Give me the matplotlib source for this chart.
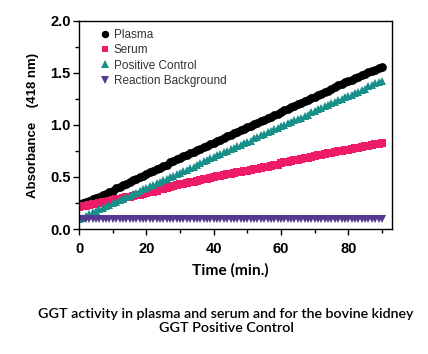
import numpy as np
import matplotlib
matplotlib.use("Agg")
import matplotlib.pyplot as plt
from matplotlib.ticker import MultipleLocator

# --------------------------
# data (1 min steps)
# --------------------------
time_min = list(range(0, 91))

plasma = [0.24, 0.25, 0.26, 0.27, 0.29, 0.30, 0.31, 0.33, 0.34, 0.36,
          0.37, 0.39, 0.40, 0.42, 0.43, 0.45, 0.47, 0.48, 0.50, 0.51,
          0.53, 0.55, 0.56, 0.58, 0.59, 0.61, 0.62, 0.64, 0.65, 0.67,
          0.68, 0.70, 0.71, 0.73, 0.74, 0.76, 0.77, 0.79, 0.80, 0.82,
          0.83, 0.85, 0.86, 0.87, 0.89, 0.90, 0.92, 0.93, 0.95, 0.96,
          0.98, 0.99, 1.01, 1.02, 1.04, 1.05, 1.07, 1.08, 1.10, 1.11,
          1.12, 1.14, 1.15, 1.17, 1.18, 1.20, 1.21, 1.23, 1.24, 1.26,
          1.27, 1.29, 1.30, 1.32, 1.33, 1.35, 1.36, 1.38, 1.39, 1.41,
          1.42, 1.43, 1.45, 1.46, 1.48, 1.49, 1.51, 1.52, 1.53, 1.55,
          1.56]

serum = [0.21, 0.22, 0.22, 0.23, 0.24, 0.24, 0.25, 0.26, 0.26, 0.27,
         0.28, 0.29, 0.29, 0.30, 0.31, 0.31, 0.32, 0.33, 0.33, 0.34,
         0.35, 0.36, 0.36, 0.37, 0.38, 0.38, 0.39, 0.40, 0.41, 0.42,
         0.43, 0.43, 0.44, 0.45, 0.45, 0.46, 0.47, 0.48, 0.48, 0.49,
         0.50, 0.51, 0.51, 0.52, 0.53, 0.53, 0.54, 0.55, 0.55, 0.56,
         0.56, 0.57, 0.58, 0.58, 0.59, 0.60, 0.60, 0.61, 0.62, 0.62,
         0.63, 0.64, 0.64, 0.65, 0.66, 0.66, 0.67, 0.68, 0.68, 0.69,
         0.70, 0.71, 0.71, 0.72, 0.73, 0.73, 0.74, 0.75, 0.75, 0.76,
         0.76, 0.77, 0.78, 0.78, 0.79, 0.80, 0.80, 0.81, 0.82, 0.82,
         0.83]

positive_control = [0.10, 0.11, 0.13, 0.14, 0.16, 0.17, 0.19, 0.20, 0.22, 0.23,
                    0.25, 0.26, 0.28, 0.29, 0.31, 0.32, 0.34, 0.35, 0.37, 0.38,
                    0.39, 0.41, 0.42, 0.44, 0.45, 0.47, 0.48, 0.50, 0.51, 0.53,
                    0.54, 0.56, 0.57, 0.59, 0.60, 0.62, 0.63, 0.65, 0.66, 0.68,
                    0.69, 0.71, 0.72, 0.74, 0.75, 0.77, 0.78, 0.80, 0.81, 0.83,
                    0.84, 0.85, 0.87, 0.88, 0.90, 0.91, 0.93, 0.94, 0.96, 0.97,
                    0.99, 1.00, 1.02, 1.03, 1.05, 1.06, 1.07, 1.09, 1.10, 1.12,
                    1.13, 1.15, 1.16, 1.18, 1.19, 1.21, 1.22, 1.24, 1.25, 1.27,
                    1.28, 1.29, 1.31, 1.32, 1.34, 1.35, 1.37, 1.38, 1.40, 1.41,
                    1.42]

background = [0.10] * 91  # flat in the picture, every reading ~0.10

series_names = ["Plasma", "Serum", "Positive Control", "Reaction Background"]

# --------------------------
# figure
# --------------------------
fig = plt.figure(figsize=(4.28, 3.54), dpi=100)
ax = fig.add_axes([0.185, 0.353, 0.731, 0.588])

ax.plot(time_min, plasma, "o", color="black", ms=6.3, mew=0, label=series_names[0])
ax.plot(time_min, serum, "s", color="#ee1c68", ms=5.6, mew=0, label=series_names[1])
ax.plot(time_min, positive_control, "^", color="#17908a", ms=6.2, mew=0, label=series_names[2])
ax.plot(time_min, background, "v", color="#55388f", ms=6.2, mew=0, label=series_names[3])

ax.set_xlim(0, 93)
ax.set_ylim(0, 2.0)
ax.xaxis.set_major_locator(MultipleLocator(20))
ax.xaxis.set_minor_locator(MultipleLocator(10))
ax.yaxis.set_major_locator(MultipleLocator(0.5))
ax.yaxis.set_minor_locator(MultipleLocator(0.25))
ax.yaxis.set_major_formatter(matplotlib.ticker.FormatStrFormatter("%.1f"))

for s in ax.spines.values():
    s.set_linewidth(1.0)
ax.tick_params(which="major", direction="out", length=4, width=1.0)
ax.tick_params(which="minor", direction="out", length=3, width=1.0)
ax.tick_params(axis="x", which="major", pad=5)
ax.tick_params(axis="y", which="major", pad=2)
for lab in ax.get_xticklabels() + ax.get_yticklabels():
    lab.set_fontfamily("Liberation Sans")
    lab.set_fontweight("bold")
    lab.set_fontsize(10.5)

ax.set_ylabel("Absorbance    (418 nm)", fontfamily="Liberation Sans",
              fontweight="bold", fontsize=9.5, labelpad=8)

leg = ax.legend(loc="upper left", bbox_to_anchor=(0.04, 0.995), frameon=False,
                prop={"family": "Liberation Sans", "size": 8.5},
                handletextpad=0.25, borderaxespad=0.2, labelspacing=0.28,
                markerscale=0.85, handlelength=1.0)
for t in leg.get_texts():
    t.set_color("#333333")

fig.text(0.537, 0.237, "Time (min.)", ha="center", va="center",
         fontfamily="Lato", fontweight="bold", fontsize=11.2)
fig.text(0.528, 0.093, "GGT activity in plasma and serum and for the bovine kidney\nGGT Positive Control",
         ha="center", va="center", fontfamily="Lato", fontweight="semibold",
         fontsize=10.3, linespacing=1.2)

fig.savefig("out.png", dpi=100)
